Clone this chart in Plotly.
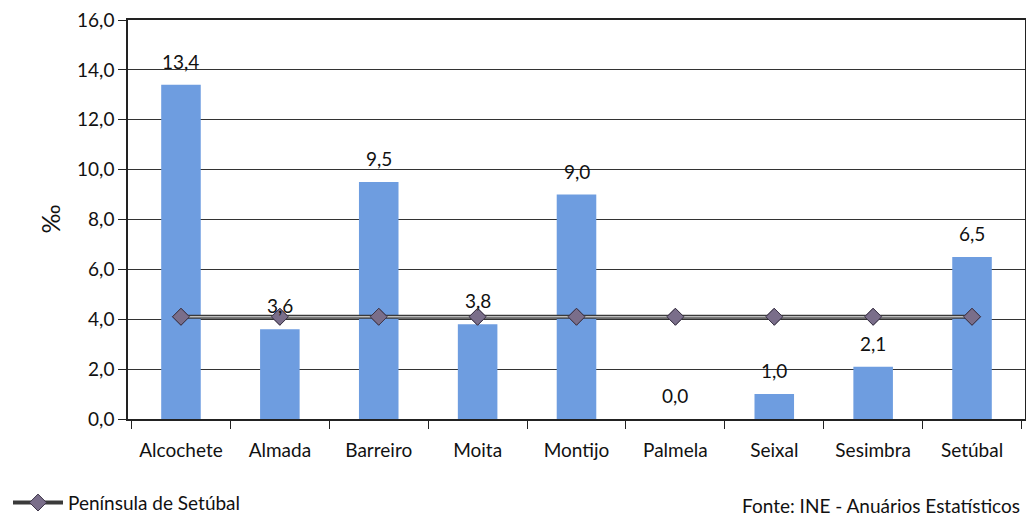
import plotly.graph_objects as go

categories = ["Alcochete", "Almada", "Barreiro", "Moita", "Montijo", "Palmela", "Seixal", "Sesimbra", "Setúbal"]
concelho_values = [13.4, 3.6, 9.5, 3.8, 9.0, 0.0, 1.0, 2.1, 6.5]
peninsula_values = [4.1, 4.1, 4.1, 4.1, 4.1, 4.1, 4.1, 4.1, 4.1]
y_ticks = [0, 2, 4, 6, 8, 10, 12, 14, 16]
y_tick_labels = ["0,0", "2,0", "4,0", "6,0", "8,0", "10,0", "12,0", "14,0", "16,0"]

FONT = "Lato, 'Open Sans', sans-serif"
BAR_COLOR = "#6e9de0"
TXT = "#111111"

fig = go.Figure()
fig.add_trace(go.Bar(
    x=categories, y=concelho_values, marker=dict(color=BAR_COLOR, line=dict(width=0)),
    showlegend=False, hoverinfo="x+y",
))
# Península de Setúbal line: dark outer line
fig.add_trace(go.Scatter(
    x=categories, y=peninsula_values, mode="lines+markers", name="Península de Setúbal",
    line=dict(color="#3a3a3a", width=4),
    marker=dict(symbol="diamond", size=13, color="#7a6e8a", line=dict(color="#3d3548", width=1)),
))
# light inner line
fig.add_trace(go.Scatter(
    x=categories, y=peninsula_values, mode="lines", showlegend=False,
    line=dict(color="#bdbdbd", width=1.5), hoverinfo="skip",
))
fig.add_trace(go.Scatter(
    x=categories, y=peninsula_values, mode="markers", showlegend=False,
    marker=dict(symbol="diamond", size=13, color="#7a6e8a", line=dict(color="#3d3548", width=1)),
    hoverinfo="skip",
))

for c, v in zip(categories, concelho_values):
    fig.add_annotation(
        x=c, y=v, text=f"{v:.1f}".replace(".", ","), showarrow=False,
        yanchor="bottom", yshift=10, font=dict(family=FONT, size=19, color=TXT),
    )

fig.add_annotation(
    xref="paper", yref="paper", x=-0.088, y=0.5, text="‰", textangle=-90, showarrow=False,
    font=dict(family=FONT, size=25, color=TXT), xanchor="center", yanchor="middle",
)
fig.add_annotation(
    xref="paper", yref="paper", x=0.997, y=-0.216, text="Fonte: INE - Anuários Estatísticos",
    showarrow=False, xanchor="right", yanchor="middle",
    font=dict(family=FONT, size=19, color=TXT),
)

# The page body adds an 8px margin, so the figure is sized to the remaining area.
fig.update_layout(
    width=1018, height=510,
    margin=dict(l=120, r=1, t=12, b=99, autoexpand=False),
    paper_bgcolor="white", plot_bgcolor="white",
    bargap=0.6,
    font=dict(family=FONT, size=19, color=TXT),
    legend=dict(
        orientation="h", xref="container", yref="container", x=0.0, y=0.03,
        xanchor="left", yanchor="middle", font=dict(family=FONT, size=19, color=TXT),
        bgcolor="rgba(0,0,0,0)", itemwidth=50,
    ),
    xaxis=dict(
        showline=True, linecolor="#222", linewidth=1.5, mirror=True,
        ticks="outside", tickson="boundaries", ticklen=8, tickcolor="#222",
        ticklabelstandoff=13, showgrid=False, automargin=False,
        ticklabeloverflow="allow",
        tickfont=dict(family=FONT, size=19, color=TXT),
    ),
    yaxis=dict(
        range=[0, 16], tickvals=y_ticks, ticktext=y_tick_labels,
        showline=True, linecolor="#222", linewidth=1.5, mirror=True,
        ticks="outside", ticklen=8, tickcolor="#222", automargin=False,
        ticklabeloverflow="allow",
        showgrid=True, gridcolor="#333", gridwidth=1, zeroline=False,
        tickfont=dict(family=FONT, size=19, color=TXT),
    ),
)

fig.write_html("out.html")
